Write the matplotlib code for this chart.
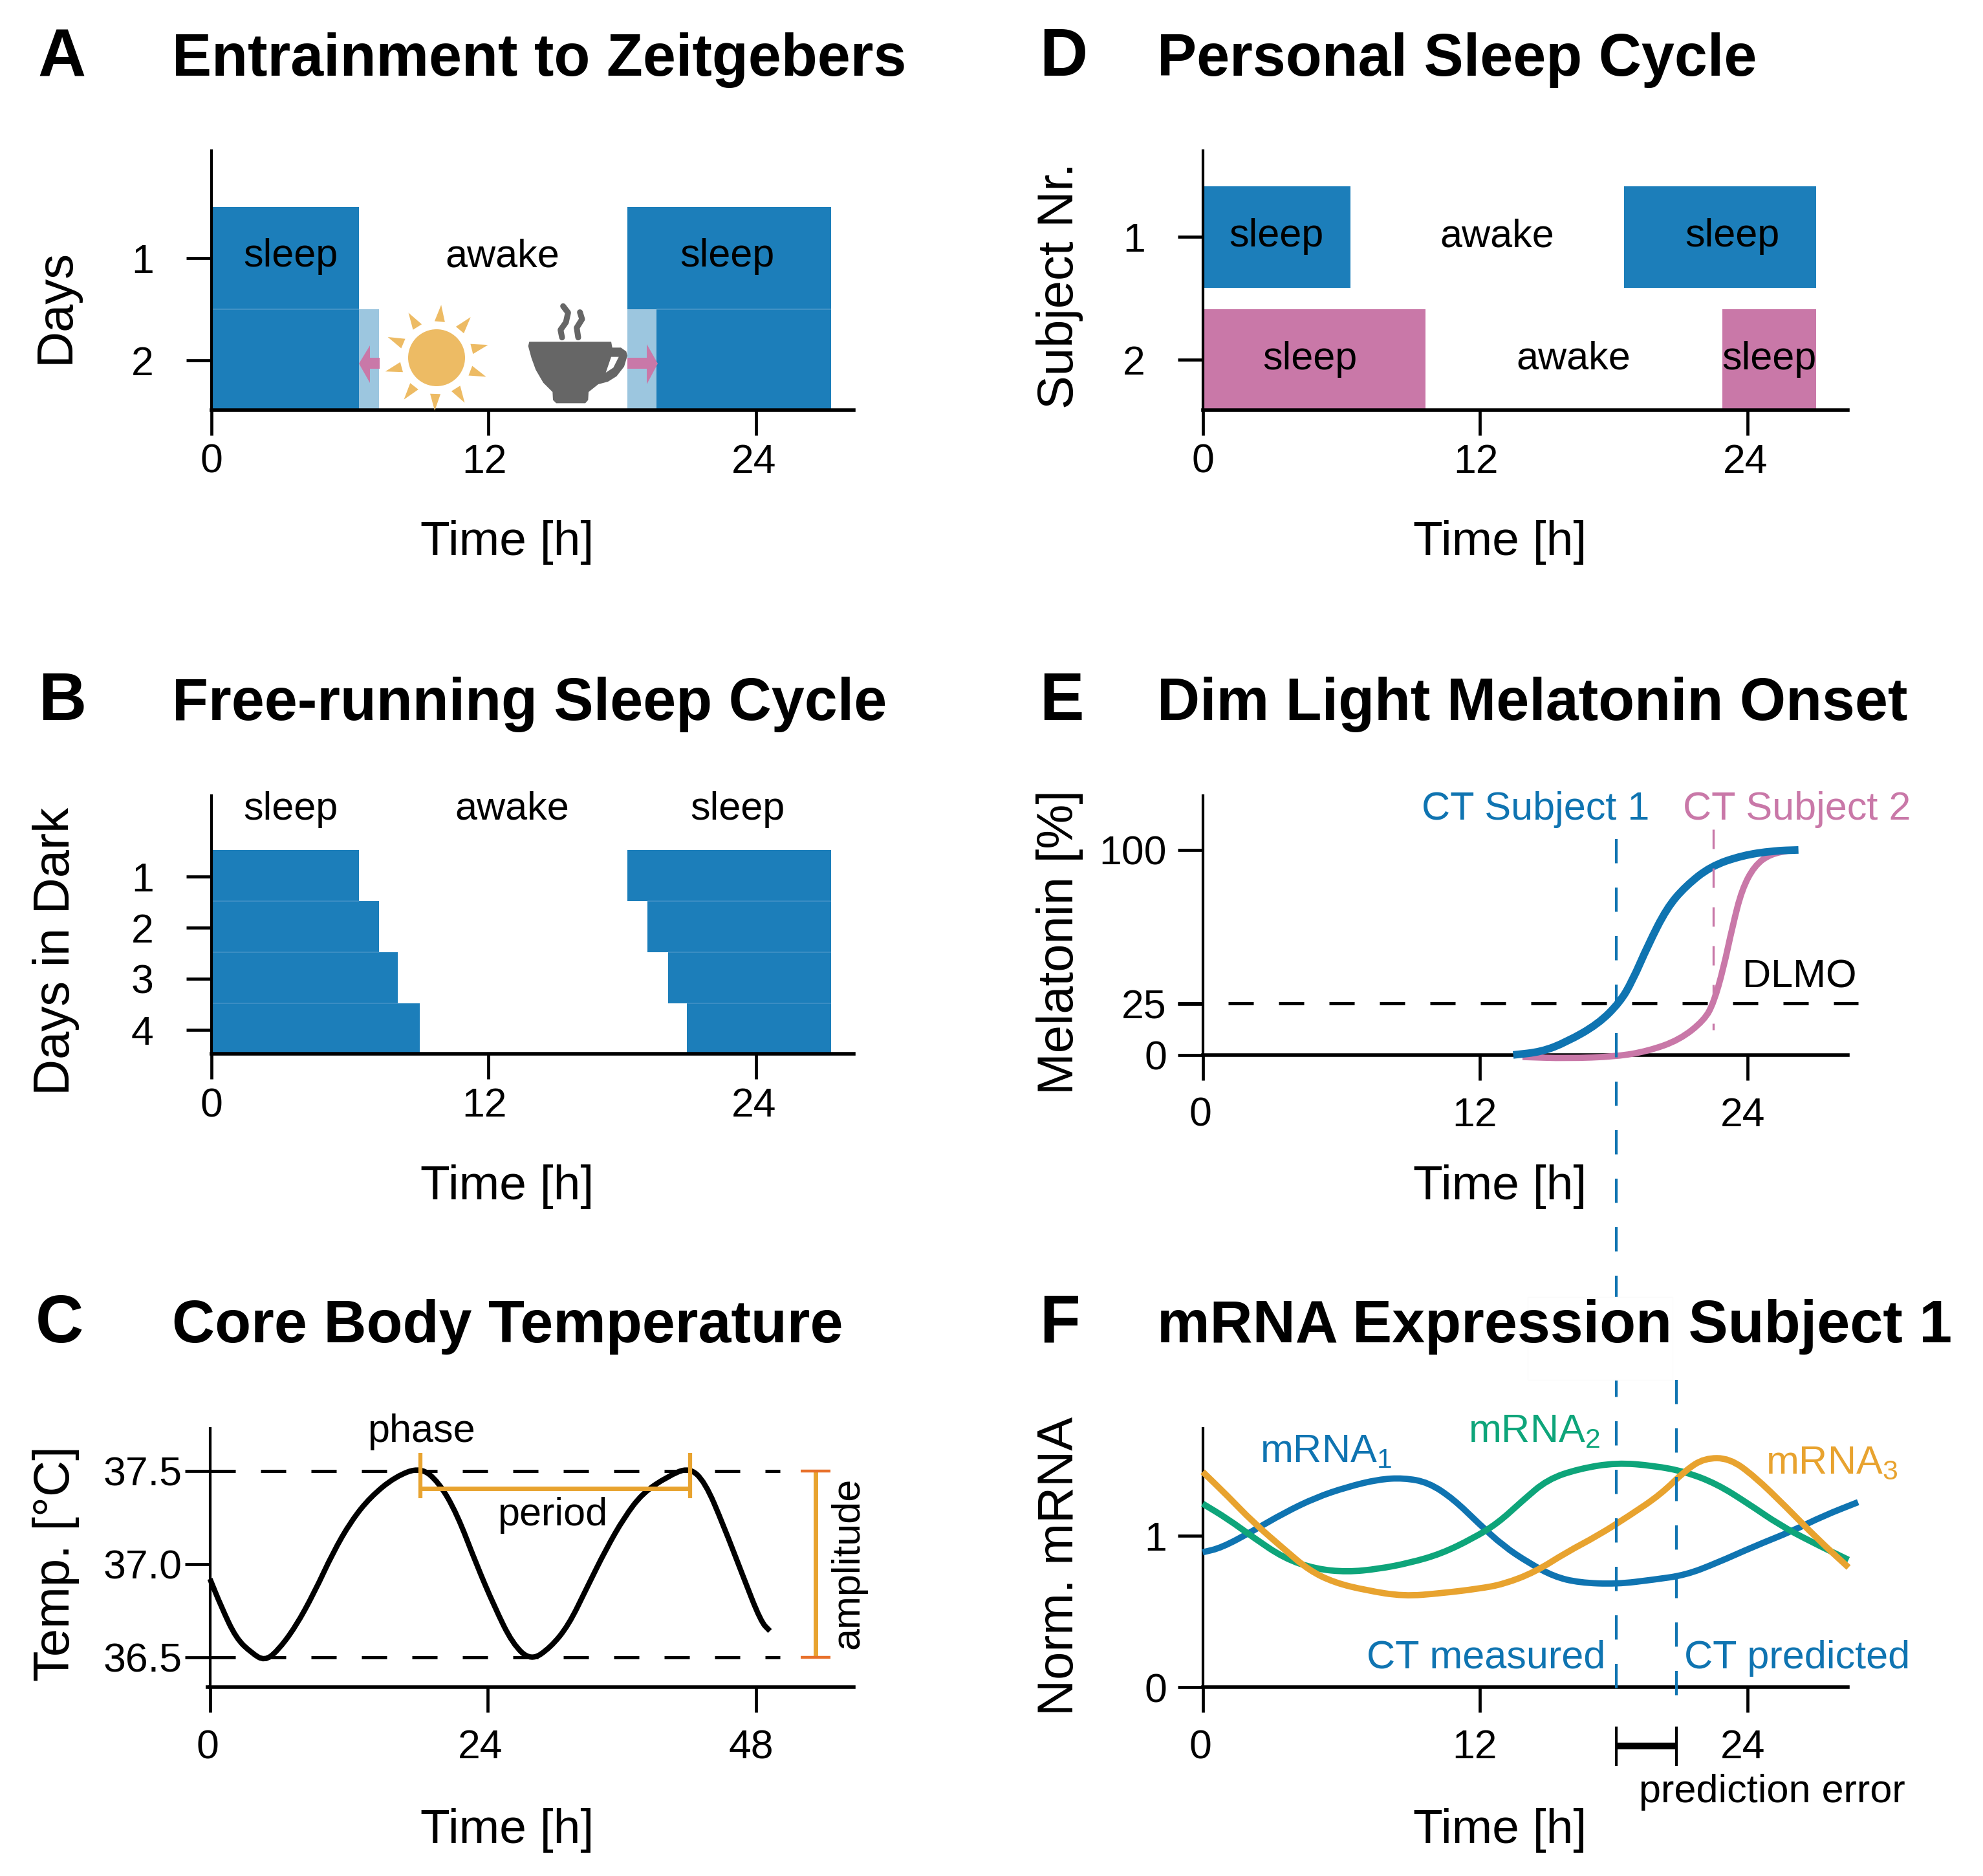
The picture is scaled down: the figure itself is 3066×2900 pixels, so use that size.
import numpy as np
import matplotlib
matplotlib.use('Agg')
import matplotlib.pyplot as plt
from matplotlib.transforms import ScaledTranslation
from matplotlib.patches import Polygon, Circle, Rectangle, PathPatch
from matplotlib.path import Path

plt.rcParams['font.family'] = ['Liberation Sans', 'DejaVu Sans']
plt.rcParams['mathtext.fontset'] = 'custom'
plt.rcParams['mathtext.rm'] = 'Liberation Sans'
plt.rcParams['mathtext.default'] = 'rm'

BLUE = '#1c7eba'
LINE_BLUE = '#0f74b1'
LIGHT = '#9cc6df'
SEAM = '#4191c5'
PINK = '#c978a8'
GREEN = '#0ea57a'
ORANGE = '#e8a32f'
RED = '#e8702a'

# panel A
a_day1 = [(0, 6.5), (18.28, 27.22)]
a_day2 = [(0, 6.5), (19.56, 27.22)]
a_shift = [(6.5, 7.38), (18.28, 19.56)]

# panel B
b_end = [6.5, 7.36, 8.2, 9.17]
b_start = [18.28, 19.17, 20.06, 20.9]
b_last = 27.22

# panel C
temp_t = [0, 1, 2.3, 3.7, 4.8, 5.9, 7.5, 9.2, 10.8, 12.4, 14.1, 16.3, 18.5, 20.1, 21.7,
          23.4, 25, 26.6, 28.2, 29.9, 31.5, 33.1, 34.8, 36.4, 38, 40.2, 42.1, 43.5, 45.1, 46.8, 48.4, 49.2]
temp_v = [36.92, 36.77, 36.6, 36.52, 36.48, 36.53, 36.66, 36.85, 37.06, 37.23, 37.36, 37.47, 37.52,
          37.44, 37.27, 37.0, 36.77, 36.57, 36.48, 36.55, 36.67, 36.87, 37.08, 37.25, 37.38, 37.47,
          37.52, 37.44, 37.21, 36.94, 36.69, 36.64]

# panel D
d_subj1 = [(0, 6.5), (18.5, 26.94)]
d_subj2 = [(0, 9.78), (22.83, 26.94)]

# panel E
mel1_t = [13.64, 14.88, 15.98, 17.36, 18.32, 18.87, 19.56, 20.39, 21.21, 22.31, 23.69, 25.07, 26.17]
mel1_v = [0, 1.5, 6.3, 15, 25.6, 36, 53.5, 71.7, 82.3, 92, 97.3, 99.6, 100]
mel2_t = [14.05, 15.98, 18.18, 19.56, 20.94, 22.04, 22.45, 22.87, 23.28, 23.69, 24.24, 24.93, 25.9]
mel2_v = [-1, -1.7, -0.8, 1.9, 7.3, 17, 25.6, 42, 63, 80.8, 92.3, 98, 100]

# panel F
rna1_t = [0, 0.83, 2.2, 3.58, 4.96, 6.34, 7.71, 8.82, 9.92, 11.02, 12.12, 13.22, 14.33, 15.43,
          16.53, 18.18, 19.83, 21.21, 22.59, 24.24, 25.9, 27.27, 28.79]
rna1_v = [0.89, 0.92, 1.03, 1.15, 1.25, 1.32, 1.37, 1.38, 1.35, 1.24, 1.08, 0.93, 0.82, 0.73,
          0.69, 0.68, 0.71, 0.74, 0.82, 0.93, 1.03, 1.13, 1.22]
rna2_t = [0, 1.1, 2.2, 3.58, 4.96, 6.34, 7.71, 9.09, 10.47, 11.85, 12.95, 14.05, 15.15, 16.53,
          18.18, 19.83, 21.21, 22.59, 23.97, 25.34, 26.72, 28.37]
rna2_v = [1.21, 1.11, 0.99, 0.85, 0.78, 0.76, 0.78, 0.82, 0.88, 0.98, 1.08, 1.23, 1.37, 1.44,
          1.48, 1.46, 1.42, 1.34, 1.21, 1.07, 0.96, 0.84]
rna3_t = [0, 1.1, 2.2, 3.58, 4.68, 5.79, 7.16, 8.82, 10.47, 12.12, 13.22, 14.6, 15.98, 17.36,
          18.73, 20.11, 21.21, 22.04, 23.14, 24.24, 25.62, 26.99, 28.37]
rna3_v = [1.42, 1.26, 1.09, 0.91, 0.77, 0.69, 0.64, 0.6, 0.62, 0.65, 0.68, 0.76, 0.89, 1.0,
          1.13, 1.27, 1.43, 1.51, 1.51, 1.39, 1.19, 0.98, 0.79]

S = 3066 / 1568.0
W, H = 3066, 2900
fig = plt.figure(figsize=(W / 100, H / 100), dpi=100)


def panel(x0, x1, ytop, ybot, xscale, ylim, yticks, ylabs, xticks, xlabs, xoff, ypad, xpad=9):
    ax = fig.add_axes([x0 * S / W, 1 - (ybot + 1) * S / H, (x1 - x0) * S / W, (ybot - ytop) * S / H])
    ax.set_xlim(0, (x1 - x0) / xscale)
    ax.set_ylim(*ylim)
    ax.patch.set_alpha(0)
    for s in ['top', 'right']:
        ax.spines[s].set_visible(False)
    ax.spines['left'].set_linewidth(3)
    ax.spines['bottom'].set_linewidth(4)
    ax.set_xticks(xticks, xlabs)
    ax.set_yticks(yticks, ylabs)
    ax.tick_params(axis='x', length=28, width=3.4, labelsize=45, pad=xpad)
    ax.tick_params(axis='y', length=28, width=3.4, labelsize=45, pad=ypad)
    for lab, dx in zip(ax.get_xticklabels(), xoff):
        lab.set_transform(lab.get_transform() + ScaledTranslation(dx * S / 100, 0, fig.dpi_scale_trans))
    return ax


def blocks(ax, y0, y1, spans, color=BLUE):
    for a, b in spans:
        ax.barh((y0 + y1) / 2, b - a, left=a, height=y1 - y0, color=color, linewidth=0, zorder=1)


def curve(ax, t, v, color, lw, zorder=3):
    # read points act as control points, so the line stays round without extra values
    p = np.column_stack([t, v])
    verts = [p[0], (p[0] + p[1]) / 2]
    codes = [Path.MOVETO, Path.LINETO]
    for i in range(1, len(p) - 1):
        verts += [p[i], (p[i] + p[i + 1]) / 2]
        codes += [Path.CURVE3, Path.CURVE3]
    verts.append(p[-1])
    codes.append(Path.LINETO)
    ax.add_patch(PathPatch(Path(verts, codes), fc='none', ec=color, lw=lw, zorder=zorder, clip_on=False, capstyle='butt'))


TICKS = [0, 12.17, 23.95]
LABS = ['0', '12', '24']
BLACK_DASH = (0, (7.8, 7.8))

axA = panel(167, 675, 118, 323, 18, (2.48, -0.05), [1, 2], ['1', '2'], TICKS, LABS, [0, -3, -2], 36)
blocks(axA, 0.5, 1.5, a_day1)
blocks(axA, 1.5, 2.48, a_day2)
blocks(axA, 1.5, 2.48, a_shift, LIGHT)
axA.hlines(1.5, 0, 6.5, color=SEAM, lw=1.5, zorder=1.5)
axA.hlines(1.5, 19.56, 27.22, color=SEAM, lw=1.5, zorder=1.5)

axB = panel(167, 675, 628, 832, 18, (4.47, -0.59), [1, 2, 3, 4], ['1', '2', '3', '4'], TICKS, LABS, [0, -3, -2], 36)
for i in range(4):
    y0 = i + 0.48
    y1 = i + 1.48 if i < 3 else 4.47
    blocks(axB, y0, y1, [(0, b_end[i]), (b_start[i], b_last)])
    if i:
        axB.hlines(y0, 0, b_end[i - 1], color=SEAM, lw=1.2, zorder=1.5)
        axB.hlines(y0, b_start[i], b_last, color=SEAM, lw=1.2, zorder=1.5)

axC = panel(166, 675, 1128, 1333, 9, (36.337, 37.73), [36.5, 37, 37.5], ['36.5', '37.0', '37.5'],
            [0, 24.4, 48], ['0', '24', '48'], [-2, -6, -4], 3, xpad=18)
axC.hlines([36.5, 37.5], 0, 50.1, color='k', lw=3.6, linestyles=BLACK_DASH, zorder=2)
curve(axC, temp_t, temp_v, 'k', 6)
axC.hlines(37.405, 18.5, 42.2, color=ORANGE, lw=5, zorder=4)
axC.vlines([18.5, 42.2], 37.353, 37.597, color=ORANGE, lw=4.5, zorder=4)
axC.vlines(53.2, 36.5, 37.5, color=ORANGE, lw=5, zorder=4)
axC.hlines([36.5, 37.5], 51.9, 54.5, color=RED, lw=3.2, zorder=4)

axD = panel(951, 1461, 118, 323, 18, (2.41, 0.30), [1, 2], ['1', '2'], TICKS, LABS, [0, -3, -2], 36)
blocks(axD, 0.59, 1.42, d_subj1)
blocks(axD, 1.59, 2.41, d_subj2, PINK)

axE = panel(951, 1461, 628, 833, 18, (0, 126.5), [0, 25, 100], ['0', '25', '100'], TICKS, LABS, [-2, -4, -4], 12, xpad=18)
axE.hlines(25.3, -1.1, 28.8, color='k', lw=3.6, linestyles=BLACK_DASH, zorder=2, clip_on=False)
curve(axE, mel2_t, mel2_v, PINK, 7)
curve(axE, mel1_t, mel1_v, LINE_BLUE, 8.5, zorder=4)

axF = panel(951, 1461, 1128, 1333, 18, (0, 1.708), [0, 1], ['0', '1'], TICKS, LABS, [-2, -4, -4], 12, xpad=18)
curve(axF, rna1_t, rna1_v, LINE_BLUE, 7)
curve(axF, rna2_t, rna2_v, GREEN, 7, zorder=4)
curve(axF, rna3_t, rna3_v, ORANGE, 7, zorder=5)

# overlay in reference pixels for icons, labels and lines that cross panels
ov = fig.add_axes([0, 0, 1, 1], zorder=10)
ov.set_xlim(0, W)
ov.set_ylim(H, 0)
ov.axis('off')


def txt(x, y, s, size=44, color='k', ha='center', va='center', **kw):
    ov.text(x * S, y * S, s, fontsize=size, color=color, ha=ha, va=va, **kw)


DASH = (0, (9, 9))
ov.plot([2499, 2499], [1297, 2626], color=LINE_BLUE, lw=3, ls=DASH, dash_capstyle='butt')
ov.plot([2592, 2592], [2133, 2626], color=LINE_BLUE, lw=3, ls=DASH, dash_capstyle='butt')
ov.plot([2649, 2649], [1282, 1592], color=PINK, lw=2.4, ls=DASH, dash_capstyle='butt')
ov.add_patch(Rectangle((2362, 2005), 224, 128, fc='white', ec='#fbfbfb', lw=1, zorder=2.2))
ov.plot([318, 326], [2608, 2608], color='k', lw=4, solid_capstyle='butt')

# error bracket
ov.plot([2499, 2592], [2699, 2699], color='k', lw=7.5, solid_capstyle='butt')
ov.vlines([2499, 2592], 2669, 2730, color='k', lw=3)

# arrows in panel A
ov.add_patch(Polygon([(555, 562), (572, 534), (572, 553), (587, 553), (587, 570), (572, 570), (572, 592)], fc=PINK, ec='none'))
ov.add_patch(Polygon([(1017, 562), (1000, 532), (1000, 553), (970, 553), (970, 570), (1000, 570), (1000, 594)], fc=PINK, ec='none'))

# sun
SUN = '#edbb64'
sx, sy = 675, 553
ov.add_patch(Circle((sx, sy), 44, fc=SUN, ec='none'))
for ang in [85, 50, 14, -21, -58, -92, -128, -165, 157, 122]:
    r = np.deg2rad(ang)
    u = np.array([np.cos(r), -np.sin(r)])
    n = np.array([-u[1], u[0]])
    c = np.array([sx, sy])
    ov.add_patch(Polygon([c + u * 82, c + u * 56 + n * 8, c + u * 56 - n * 8], fc=SUN, ec='none'))

# cup
CUP = '#666666'
cup = [(895, 265), (1275, 265), (1280, 292), (1320, 292), (1345, 310), (1350, 330), (1335, 380), (1300, 425),
       (1260, 450), (1215, 462), (1170, 498), (1168, 535), (1155, 550), (1020, 550), (1005, 535), (1003, 498),
       (960, 455), (925, 395), (905, 340), (890, 285)]
conv = lambda p: [(a / 3 + 520, b / 3 + 440) for a, b in p]
ov.add_patch(Polygon(conv(cup), fc=CUP, ec='none'))
ov.add_patch(Polygon(conv([(1275, 335), (1310, 335), (1285, 385), (1250, 408)]), fc='white', ec='none'))
for st in ([(1052, 100), (1075, 130), (1065, 175), (1040, 210), (1047, 245)],
           [(1130, 128), (1140, 160), (1115, 200), (1122, 245)]):
    pts = np.array(conv(st))
    ov.plot(pts[:, 0], pts[:, 1], color=CUP, lw=6.5, solid_capstyle='round')

# headings
for letter, lx, ty, title, tx in [('A', 30, 60, 'Entrainment to Zeitgebers', 136),
                                  ('B', 30, 569, 'Free-running Sleep Cycle', 136),
                                  ('C', 28, 1061, 'Core Body Temperature', 136),
                                  ('D', 822, 60, 'Personal Sleep Cycle', 915),
                                  ('E', 822, 569, 'Dim Light Melatonin Onset', 915),
                                  ('F', 822, 1061, 'mRNA Expression Subject 1', 915)]:
    txt(lx, ty, letter, size=74, ha='left', va='baseline', weight='bold', zorder=6)
    txt(tx, ty, title, size=66, ha='left', va='baseline', weight='bold', zorder=6)

for cx, base in [(401, 439), (401, 948), (401, 1457), (1186, 439), (1186, 948), (1186, 1457)]:
    txt(cx, base, 'Time [h]', size=54, va='baseline', zorder=6)

for cx, cy, s in [(44, 242, 'Days'), (44, 752, 'Days in Dark'), (44, 1236, 'Temp. [°C]'),
                  (838, 226, 'Subject Nr.'), (838, 745, 'Melatonin [%]'), (838, 1238, 'Norm. mRNA')]:
    txt(cx, cy, s, size=56, rotation=90)

# labels inside panels
for cx, cy, s in [(230, 203, 'sleep'), (397, 203, 'awake'), (575, 203, 'sleep'),
                  (230, 640, 'sleep'), (405, 640, 'awake'), (583, 640, 'sleep'),
                  (1009, 187, 'sleep'), (1184, 187, 'awake'), (1370, 187, 'sleep'),
                  (1036, 284, 'sleep'), (1244, 284, 'awake'), (1399, 284, 'sleep'),
                  (333, 1132, 'phase'), (437, 1198, 'period'), (1423, 773, 'DLMO'),
                  (1401, 1417, 'prediction error')]:
    txt(cx, cy, s)
txt(671, 1236, 'amplitude', rotation=90)
txt(1214, 640, 'CT Subject 1', color=LINE_BLUE)
txt(1421, 640, 'CT Subject 2', color=PINK)
txt(1175, 1311, 'CT measured', color=LINE_BLUE)
txt(1421, 1311, 'CT predicted', color=LINE_BLUE)
txt(996, 1148, 'mRNA$_1$', color=LINE_BLUE, ha='left')
txt(1161, 1132, 'mRNA$_2$', color=GREEN, ha='left')
txt(1396, 1157, 'mRNA$_3$', color=ORANGE, ha='left')

fig.savefig('out.png', dpi=100)
